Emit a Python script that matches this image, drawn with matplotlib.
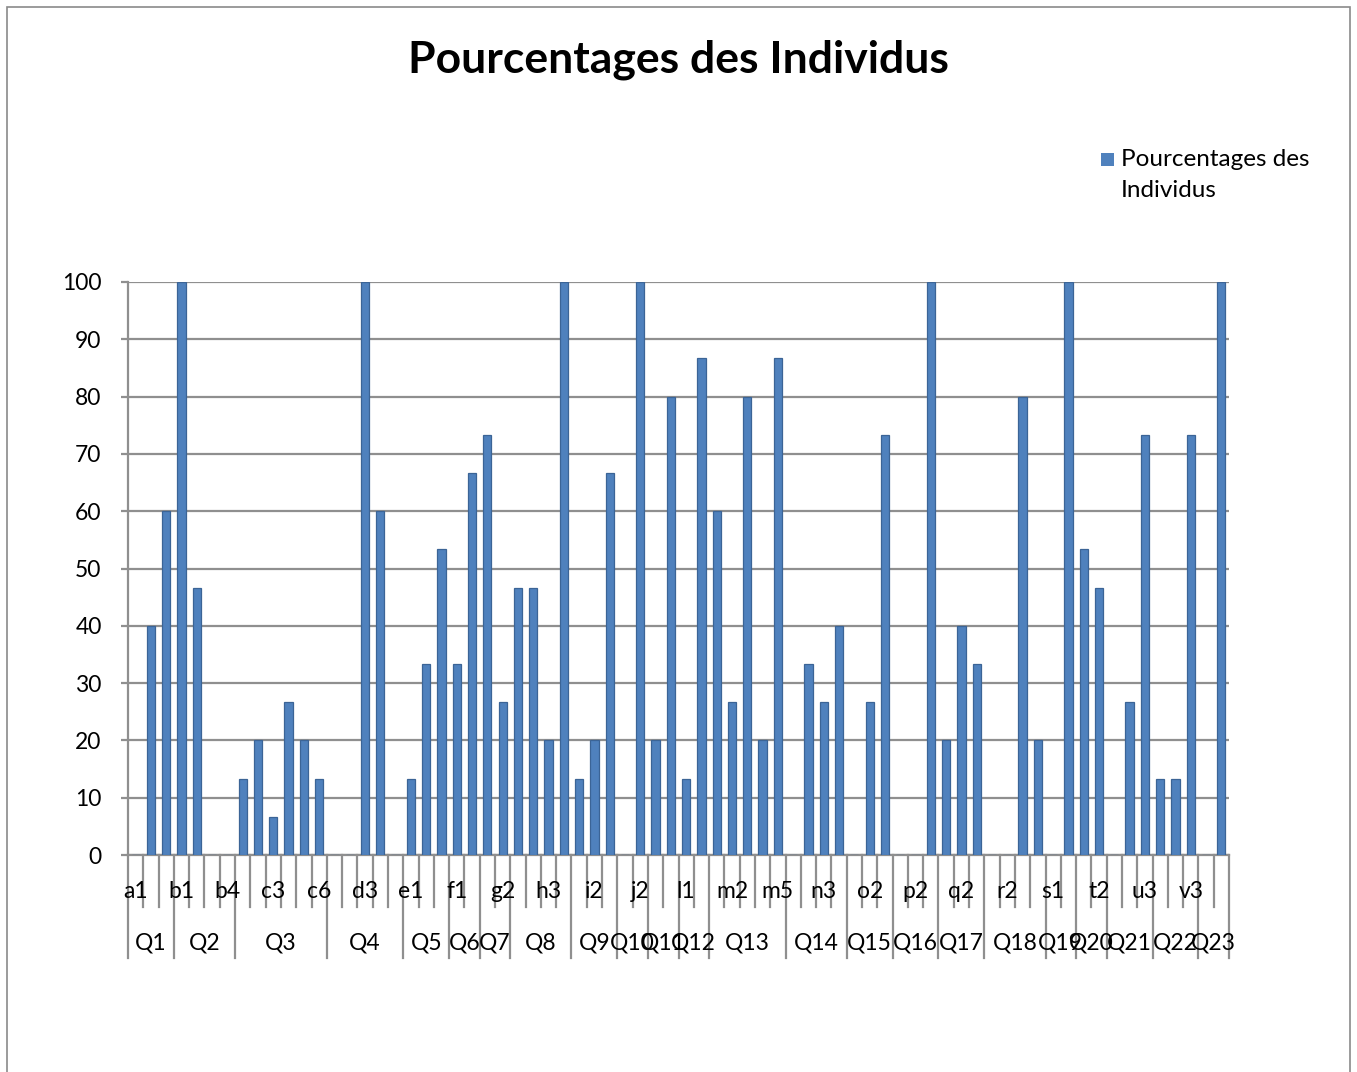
import matplotlib
matplotlib.use("Agg")
import matplotlib.pyplot as plt
from matplotlib.patches import Rectangle
import matplotlib.transforms as mtransforms

# ---------------- data ----------------
categories = ["a1", "a2", "a3",
              "b1", "b2", "b3", "b4",
              "c1", "c2", "c3", "c4", "c5", "c6",
              "d1", "d2", "d3", "d4", "d5",
              "e1", "e2", "e3",
              "f1", "f2",
              "g1", "g2",
              "h1", "h2", "h3", "h4",
              "i1", "i2", "i3",
              "j1", "j2",
              "k1", "k2",
              "l1", "l2",
              "m1", "m2", "m3", "m4", "m5",
              "n1", "n2", "n3", "n4",
              "o1", "o2", "o3",
              "p1", "p2", "p3",
              "q1", "q2", "q3",
              "r1", "r2", "r3", "r4",
              "s1", "s2",
              "t1", "t2",
              "u1", "u2", "u3",
              "v1", "v2", "v3",
              "w1", "w2"]

values = [0, 40, 60,
          100, 46.67, 0, 0,
          13.33, 20, 6.67, 26.67, 20, 13.33,
          0, 0, 100, 60, 0,
          13.33, 33.33, 53.33,
          33.33, 66.67,
          73.33, 26.67,
          46.67, 46.67, 20, 100,
          13.33, 20, 66.67,
          0, 100,
          20, 80,
          13.33, 86.67,
          60, 26.67, 80, 20, 86.67,
          0, 33.33, 26.67, 40,
          0, 26.67, 73.33,
          0, 0, 100,
          20, 40, 33.33,
          0, 0, 80, 20,
          0, 100,
          53.33, 46.67,
          0, 26.67, 73.33,
          13.33, 13.33, 73.33,
          0, 100]

groups = ["Q1", "Q2", "Q3", "Q4", "Q5", "Q6", "Q7", "Q8", "Q9", "Q10", "Q11", "Q12",
          "Q13", "Q14", "Q15", "Q16", "Q17", "Q18", "Q19", "Q20", "Q21", "Q22", "Q23"]
group_sizes = [3, 4, 6, 5, 3, 2, 2, 4, 3, 2, 2, 2, 5, 4, 3, 3, 3, 4, 2, 2, 3, 3, 2]

yticks = [0, 10, 20, 30, 40, 50, 60, 70, 80, 90, 100]
title = "Pourcentages des Individus"
series_name = "Pourcentages des\nIndividus"

# ---------------- style ----------------
plt.rcParams['font.family'] = ['Lato', 'DejaVu Sans']
W, H = 1357, 1072
fig = plt.figure(figsize=(W / 100, H / 100), dpi=100)
fig.patch.set_facecolor("white")

# outer chart border (bottom edge lies below the picture)
fig.add_artist(Rectangle((7 / W, -0.05), (1350 - 7) / W, (H - 7) / H + 0.05,
                         transform=fig.transFigure, fill=False,
                         edgecolor="#8a8a8a", linewidth=1.2))

x0, x1 = 128, 1229
y0, y1 = 855, 282
ax = fig.add_axes([x0 / W, (H - y0) / H, (x1 - x0) / W, (y0 - y1) / H])

n = len(categories)
xs = [i + 0.5 for i in range(n)]
grid_c = "#8f8f8f"
ax.bar(xs, values, width=0.54, color="#4f81bd", edgecolor="#3b6496", linewidth=0.9, zorder=3)
ax.set_xlim(0, n)
ax.set_ylim(0, 100)
ax.set_yticks(yticks)
ax.yaxis.grid(True, color=grid_c, linewidth=1.6, zorder=0)
ax.set_axisbelow(True)
for s in ["top", "right"]:
    ax.spines[s].set_visible(False)
ax.spines["left"].set_color(grid_c)
ax.spines["left"].set_linewidth(1.6)
ax.spines["bottom"].set_color(grid_c)
ax.spines["bottom"].set_linewidth(1.6)
ax.tick_params(axis="y", length=5, width=1.6, color=grid_c, pad=14, labelsize=16.5,
               labelcolor="black")
ax.set_xticks([])

# multi-level category axis
trans = mtransforms.blended_transform_factory(ax.transData, ax.transAxes)
ph = (y0 - y1)
r1_end = -(907 - y0) / ph
r2_end = -(958 - y0) / ph
r1_lab = -(891 - y0) / ph
r2_lab = -(943 - y0) / ph

bounds = [0]
for s in group_sizes:
    bounds.append(bounds[-1] + s)
for k in range(n + 1):
    yb = r2_end if k in bounds else r1_end
    ax.plot([k, k], [0, yb], transform=trans, color=grid_c, linewidth=1.6,
            clip_on=False, zorder=1)
for i in range(0, n, 3):
    ax.text(i + 0.5, r1_lab, categories[i], transform=trans, ha="center", va="center",
            fontsize=16.5, color="black")
for gi, g in enumerate(groups):
    c = (bounds[gi] + bounds[gi + 1]) / 2
    ax.text(c, r2_lab, g, transform=trans, ha="center", va="center",
            fontsize=16.5, color="black")

# title
fig.text(0.5, 1 - 60 / H, title, ha="center", va="center", fontsize=32, fontweight="bold")

# legend
fig.add_artist(Rectangle((1101 / W, 1 - 166 / H), 13 / W, 13 / H, transform=fig.transFigure,
                         facecolor="#4f81bd", edgecolor="none"))
fig.text(1121 / W, 1 - 175 / H, series_name, ha="left", va="center", fontsize=17.5,
         linespacing=1.55)

fig.savefig("out.png", dpi=100)
